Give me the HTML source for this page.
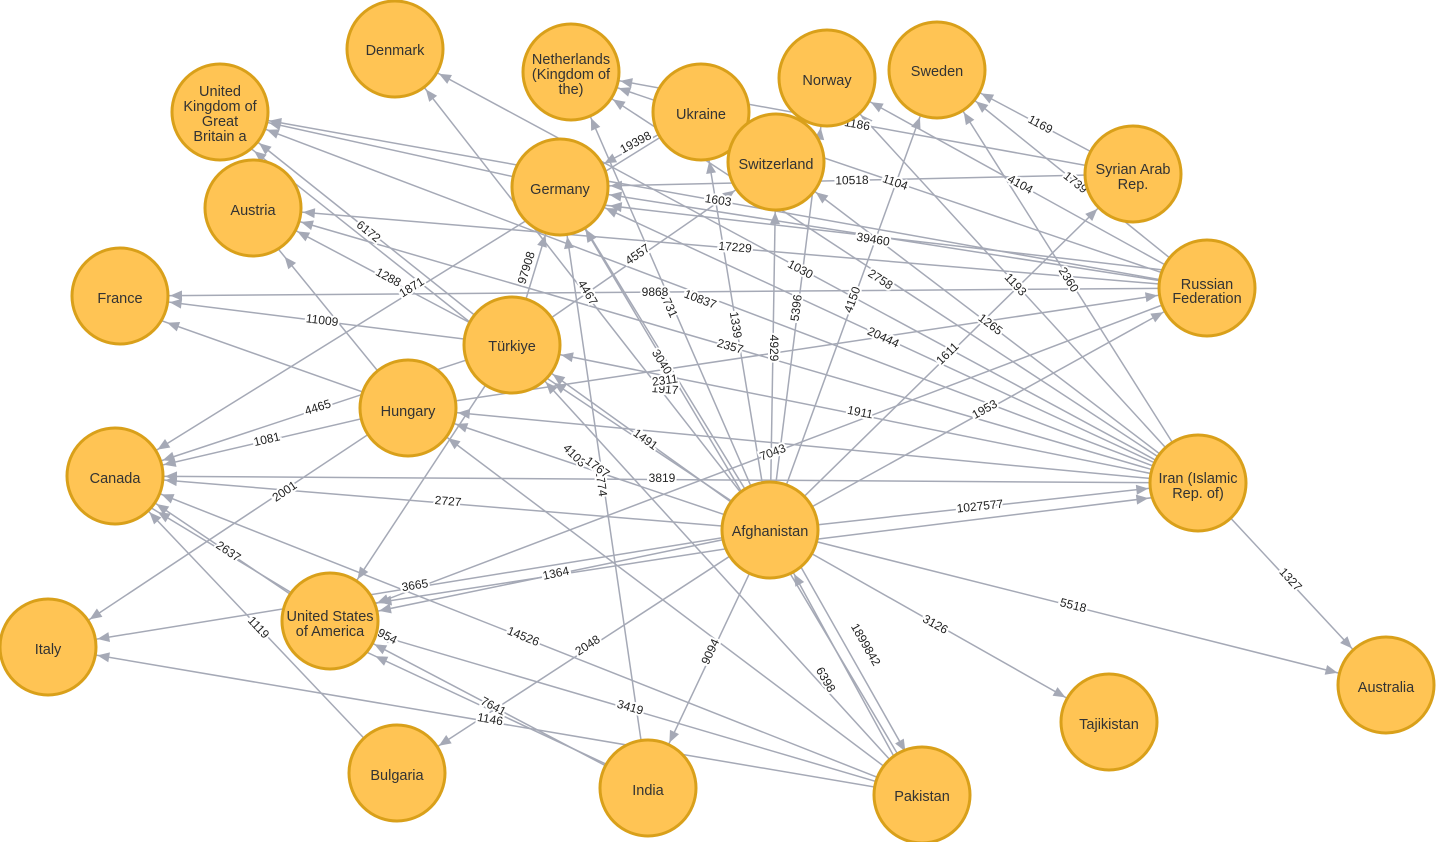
<!DOCTYPE html>
<html><head><meta charset="utf-8"><style>
html,body{margin:0;padding:0;background:#fff;}
svg{display:block;font-family:"Liberation Sans",Arial,sans-serif;}
.e line{stroke:#A5A9B6;stroke-width:1.5;}
.l text{font-size:12px;fill:#222;text-anchor:middle;dominant-baseline:middle;stroke:#fff;stroke-width:4px;paint-order:stroke;}
.n circle{fill:#FFC454;stroke:#D9A01A;stroke-width:3;}
.n text{font-size:14.5px;fill:#333;text-anchor:middle;}
</style></head><body>
<svg width="1436" height="842" viewBox="0 0 1436 842">
<defs><marker id="a" markerUnits="userSpaceOnUse" markerWidth="80" markerHeight="20" refX="62" refY="5" orient="auto" overflow="visible"><path d="M0,0 L12,5 L0,10 z" fill="#A5A9B6"/></marker></defs>
<g class="e" marker-end="url(#a)">
<line x1="770" y1="530" x2="560" y2="187"/>
<line x1="770" y1="530" x2="571" y2="72"/>
<line x1="770" y1="530" x2="701" y2="112"/>
<line x1="770" y1="530" x2="776" y2="162"/>
<line x1="770" y1="530" x2="827" y2="78"/>
<line x1="770" y1="530" x2="937" y2="70"/>
<line x1="770" y1="530" x2="1133" y2="174"/>
<line x1="770" y1="530" x2="1207" y2="288"/>
<line x1="770" y1="530" x2="1198" y2="483"/>
<line x1="770" y1="545" x2="1198" y2="492"/>
<line x1="770" y1="530" x2="1386" y2="685"/>
<line x1="770" y1="530" x2="1109" y2="722"/>
<line x1="780" y1="530" x2="930" y2="795"/>
<line x1="915" y1="795" x2="770" y2="530"/>
<line x1="770" y1="530" x2="648" y2="788"/>
<line x1="770" y1="530" x2="397" y2="773"/>
<line x1="770" y1="530" x2="330" y2="621"/>
<line x1="770" y1="542" x2="330" y2="610"/>
<line x1="770" y1="530" x2="115" y2="476"/>
<line x1="770" y1="530" x2="48" y2="647"/>
<line x1="770" y1="530" x2="512" y2="345"/>
<line x1="760" y1="520" x2="512" y2="355"/>
<line x1="770" y1="530" x2="408" y2="408"/>
<line x1="770" y1="530" x2="395" y2="50"/>
<line x1="1207" y1="288" x2="330" y2="621"/>
<line x1="1198" y1="483" x2="115" y2="476"/>
<line x1="1207" y1="288" x2="120" y2="296"/>
<line x1="1207" y1="288" x2="253" y2="208"/>
<line x1="1207" y1="288" x2="560" y2="187"/>
<line x1="1207" y1="275" x2="560" y2="200"/>
<line x1="1198" y1="483" x2="220" y2="112"/>
<line x1="1198" y1="483" x2="253" y2="208"/>
<line x1="1198" y1="483" x2="560" y2="187"/>
<line x1="1198" y1="483" x2="776" y2="162"/>
<line x1="1198" y1="483" x2="827" y2="78"/>
<line x1="1198" y1="483" x2="937" y2="70"/>
<line x1="1198" y1="483" x2="571" y2="72"/>
<line x1="1198" y1="483" x2="395" y2="50"/>
<line x1="1198" y1="483" x2="512" y2="345"/>
<line x1="1198" y1="483" x2="408" y2="408"/>
<line x1="408" y1="408" x2="1207" y2="288"/>
<line x1="1207" y1="288" x2="827" y2="78"/>
<line x1="1207" y1="288" x2="937" y2="70"/>
<line x1="1133" y1="174" x2="937" y2="70"/>
<line x1="1133" y1="174" x2="571" y2="72"/>
<line x1="1133" y1="174" x2="560" y2="187"/>
<line x1="1207" y1="288" x2="571" y2="72"/>
<line x1="1207" y1="288" x2="220" y2="112"/>
<line x1="512" y1="345" x2="120" y2="296"/>
<line x1="408" y1="408" x2="120" y2="306"/>
<line x1="512" y1="345" x2="560" y2="187"/>
<line x1="512" y1="345" x2="776" y2="162"/>
<line x1="701" y1="112" x2="560" y2="187"/>
<line x1="701" y1="112" x2="115" y2="476"/>
<line x1="512" y1="345" x2="220" y2="112"/>
<line x1="505" y1="350" x2="215" y2="120"/>
<line x1="512" y1="345" x2="253" y2="208"/>
<line x1="408" y1="408" x2="253" y2="218"/>
<line x1="512" y1="345" x2="115" y2="476"/>
<line x1="408" y1="408" x2="115" y2="476"/>
<line x1="408" y1="408" x2="48" y2="647"/>
<line x1="512" y1="345" x2="330" y2="621"/>
<line x1="922" y1="795" x2="560" y2="187"/>
<line x1="648" y1="788" x2="560" y2="187"/>
<line x1="922" y1="795" x2="512" y2="345"/>
<line x1="922" y1="795" x2="408" y2="408"/>
<line x1="922" y1="795" x2="115" y2="476"/>
<line x1="922" y1="795" x2="330" y2="621"/>
<line x1="648" y1="788" x2="330" y2="621"/>
<line x1="640" y1="780" x2="330" y2="635"/>
<line x1="922" y1="795" x2="48" y2="647"/>
<line x1="330" y1="621" x2="115" y2="476"/>
<line x1="320" y1="610" x2="115" y2="486"/>
<line x1="397" y1="773" x2="115" y2="476"/>
<line x1="1198" y1="483" x2="1386" y2="685"/>
<line x1="560" y1="187" x2="220" y2="112"/>
</g>
<g class="l">
<text transform="translate(663,365) rotate(58)">30404</text>
<text transform="translate(668,305) rotate(66)">8731</text>
<text transform="translate(735,325) rotate(81)">1339</text>
<text transform="translate(773,348) rotate(90)">4929</text>
<text transform="translate(797,308) rotate(-83)">5396</text>
<text transform="translate(853,300) rotate(-70)">4150</text>
<text transform="translate(948,354) rotate(-44)">1611</text>
<text transform="translate(985,410) rotate(-29)">1953</text>
<text transform="translate(980,507) rotate(-6)">1027577</text>
<text transform="translate(1073,606) rotate(14)">5518</text>
<text transform="translate(935,625) rotate(29)">3126</text>
<text transform="translate(865,645) rotate(60)">1899842</text>
<text transform="translate(825,680) rotate(60)">6398</text>
<text transform="translate(711,652) rotate(-65)">9094</text>
<text transform="translate(588,646) rotate(-33)">2048</text>
<text transform="translate(556,574) rotate(-12)">1364</text>
<text transform="translate(448,502) rotate(5)">2727</text>
<text transform="translate(415,586) rotate(-9)">3665</text>
<text transform="translate(645,440) rotate(36)">1491</text>
<text transform="translate(773,453) rotate(-21)">7043</text>
<text transform="translate(662,479)">3819</text>
<text transform="translate(655,293)">9868</text>
<text transform="translate(735,248) rotate(5)">17229</text>
<text transform="translate(873,240) rotate(9)">39460</text>
<text transform="translate(718,201) rotate(9)">1603</text>
<text transform="translate(700,300) rotate(21)">10837</text>
<text transform="translate(730,347) rotate(16)">2357</text>
<text transform="translate(883,338) rotate(25)">20444</text>
<text transform="translate(990,325) rotate(37)">1265</text>
<text transform="translate(1015,285) rotate(47)">1193</text>
<text transform="translate(1068,280) rotate(58)">2360</text>
<text transform="translate(880,280) rotate(33)">2758</text>
<text transform="translate(800,270) rotate(28)">1030</text>
<text transform="translate(860,413) rotate(11)">1911</text>
<text transform="translate(665,390) rotate(5)">1917</text>
<text transform="translate(665,381) rotate(-8)">2311</text>
<text transform="translate(1020,185) rotate(29)">4104</text>
<text transform="translate(1075,183) rotate(39)">1739</text>
<text transform="translate(1040,125) rotate(28)">1169</text>
<text transform="translate(857,125) rotate(10)">1186</text>
<text transform="translate(852,181) rotate(-1)">10518</text>
<text transform="translate(895,183) rotate(19)">1104</text>
<text transform="translate(322,321) rotate(7)">11009</text>
<text transform="translate(527,268) rotate(-73)">97908</text>
<text transform="translate(638,255) rotate(-35)">4557</text>
<text transform="translate(636,143) rotate(-28)">19398</text>
<text transform="translate(412,288) rotate(-32)">1871</text>
<text transform="translate(368,232) rotate(39)">6172</text>
<text transform="translate(388,278) rotate(28)">1288</text>
<text transform="translate(318,408) rotate(-18)">4465</text>
<text transform="translate(267,440) rotate(-13)">1081</text>
<text transform="translate(285,492) rotate(-34)">2001</text>
<text transform="translate(587,293) rotate(59)">4467</text>
<text transform="translate(600,480) rotate(82)">12774</text>
<text transform="translate(574,456) rotate(45)">4103</text>
<text transform="translate(597,468) rotate(37)">1767</text>
<text transform="translate(523,637) rotate(22)">14526</text>
<text transform="translate(630,708) rotate(16)">3419</text>
<text transform="translate(493,707) rotate(28)">7641</text>
<text transform="translate(387,637) rotate(27)">954</text>
<text transform="translate(490,720) rotate(10)">1146</text>
<text transform="translate(228,552) rotate(34)">2637</text>
<text transform="translate(258,628) rotate(47)">1119</text>
<text transform="translate(1290,580) rotate(47)">1327</text>
</g>
<g class="n">
<circle cx="395" cy="49" r="48"/><text x="395" y="55">Denmark</text>
<circle cx="571" cy="72" r="48"/><text x="571" y="64">Netherlands</text><text x="571" y="79">(Kingdom of</text><text x="571" y="94">the)</text>
<circle cx="827" cy="78" r="48"/><text x="827" y="85">Norway</text>
<circle cx="937" cy="70" r="48"/><text x="937" y="76">Sweden</text>
<circle cx="220" cy="112" r="48"/><text x="220" y="96">United</text><text x="220" y="111">Kingdom of</text><text x="220" y="126">Great</text><text x="220" y="141">Britain a</text>
<circle cx="701" cy="112" r="48"/><text x="701" y="119">Ukraine</text>
<circle cx="776" cy="162" r="48"/><text x="776" y="169">Switzerland</text>
<circle cx="560" cy="187" r="48"/><text x="560" y="194">Germany</text>
<circle cx="1133" cy="174" r="48"/><text x="1133" y="174">Syrian Arab</text><text x="1133" y="189">Rep.</text>
<circle cx="253" cy="208" r="48"/><text x="253" y="215">Austria</text>
<circle cx="1207" cy="288" r="48"/><text x="1207" y="289">Russian</text><text x="1207" y="303">Federation</text>
<circle cx="120" cy="296" r="48"/><text x="120" y="303">France</text>
<circle cx="512" cy="345" r="48"/><text x="512" y="351">Türkiye</text>
<circle cx="408" cy="408" r="48"/><text x="408" y="416">Hungary</text>
<circle cx="115" cy="476" r="48"/><text x="115" y="483">Canada</text>
<circle cx="1198" cy="483" r="48"/><text x="1198" y="483">Iran (Islamic</text><text x="1198" y="498">Rep. of)</text>
<circle cx="770" cy="530" r="48"/><text x="770" y="536">Afghanistan</text>
<circle cx="330" cy="621" r="48"/><text x="330" y="621">United States</text><text x="330" y="636">of America</text>
<circle cx="48" cy="647" r="48"/><text x="48" y="654">Italy</text>
<circle cx="1386" cy="685" r="48"/><text x="1386" y="692">Australia</text>
<circle cx="1109" cy="722" r="48"/><text x="1109" y="729">Tajikistan</text>
<circle cx="397" cy="773" r="48"/><text x="397" y="780">Bulgaria</text>
<circle cx="648" cy="788" r="48"/><text x="648" y="795">India</text>
<circle cx="922" cy="795" r="48"/><text x="922" y="801">Pakistan</text>
</g>
</svg>
</body></html>
